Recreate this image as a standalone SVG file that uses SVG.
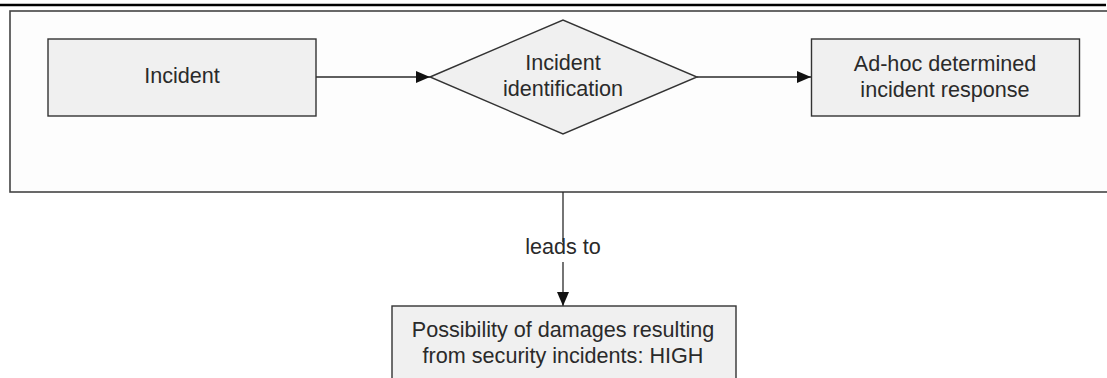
<svg xmlns="http://www.w3.org/2000/svg" width="1107" height="378" viewBox="0 0 1107 378">
  <defs>
    <style>
      .box { fill: #f0f0f0; stroke: #333333; stroke-width: 1.4; }
      .frame { fill: #fdfdfd; stroke: #444444; stroke-width: 1.6; }
      .edge { fill: none; stroke: #2a2a2a; stroke-width: 1.3; }
      .lbl { font-family: "Liberation Sans", Arial, sans-serif; font-size: 21.6px; fill: #2a2a2a; text-anchor: middle; }
    </style>
    <marker id="arrow" markerUnits="userSpaceOnUse" markerWidth="14" markerHeight="14" viewBox="0 0 14 14" refX="14" refY="7" orient="auto">
      <path d="M0,1 L14,7 L0,13 Z" fill="#111111"/>
    </marker>
  </defs>

  <rect width="1107" height="378" fill="#ffffff"/>

  <!-- header rule -->
  <line x1="0" y1="5" x2="1106" y2="5" stroke="#000000" stroke-width="2.5"/>

  <!-- enclosing frame, open on the right -->
  <rect id="frame" class="frame" x="10" y="11" width="1120" height="181"/>

  <g id="connectors">
    <line class="edge" x1="316" y1="77" x2="430" y2="77" marker-end="url(#arrow)"/>
    <line class="edge" x1="697" y1="77" x2="811" y2="77" marker-end="url(#arrow)"/>
    <line class="edge" x1="563" y1="192" x2="563" y2="242"/>
    <line class="edge" x1="563" y1="262" x2="563" y2="306" marker-end="url(#arrow)"/>
    <text class="lbl" x="563" y="254">leads to</text>
  </g>

  <g id="incident">
    <rect class="box" x="48" y="39" width="268" height="77"/>
    <text class="lbl" x="182" y="83">Incident</text>
  </g>

  <g id="identification">
    <polygon class="box" points="430,77 563,20 697,77 563,134"/>
    <text class="lbl" x="563" y="70">Incident</text>
    <text class="lbl" x="563" y="96">identification</text>
  </g>

  <g id="response">
    <rect class="box" x="811.5" y="39" width="268" height="77"/>
    <text class="lbl" x="945" y="71">Ad-hoc determined</text>
    <text class="lbl" x="945" y="97">incident response</text>
  </g>

  <g id="damages">
    <rect class="box" x="392" y="306" width="344" height="90"/>
    <text class="lbl" x="563" y="337">Possibility of damages resulting</text>
    <text class="lbl" x="563" y="363">from security incidents: HIGH</text>
  </g>
</svg>
